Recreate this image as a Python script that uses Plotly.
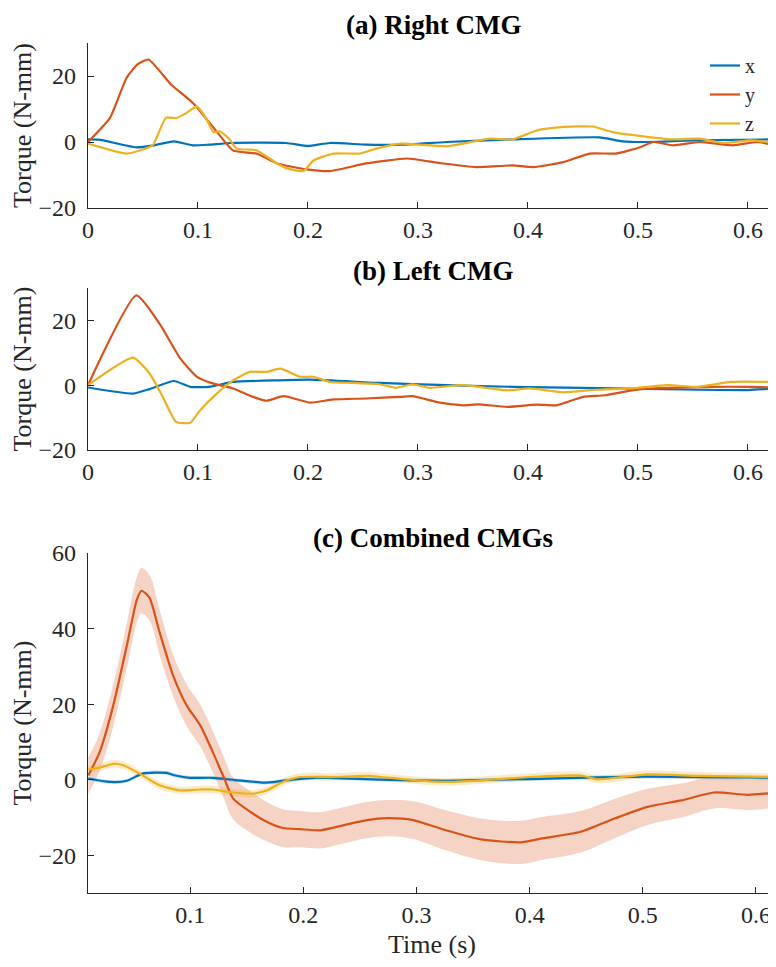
import plotly.graph_objects as go

# ---------------- data ----------------
# (a) Right CMG
ra_x_t = [0, 0.01, 0.044, 0.06, 0.078, 0.095, 0.11, 0.13, 0.18, 0.2, 0.22, 0.253, 0.284, 0.326, 0.386, 0.465, 0.486, 0.51, 0.55, 0.625]
ra_x_v = [0.8, 0.7, -1.6, -1.0, 0.2, -1.0, -0.8, -0.3, -0.3, -1.2, -0.3, -0.8, -0.8, 0, 0.8, 1.4, 0.2, 0, 0.5, 0.8]
ra_y_t = [0, 0.02, 0.035, 0.045, 0.055, 0.075, 0.096, 0.114, 0.132, 0.153, 0.172, 0.199, 0.22, 0.253, 0.29, 0.32, 0.353, 0.386, 0.405, 0.432, 0.456, 0.48, 0.502, 0.514, 0.532, 0.556, 0.586, 0.608, 0.625]
ra_y_v = [0, 7.3, 19.4, 23.5, 25, 17.6, 11.6, 4.4, -2.6, -3.5, -6.5, -8.3, -8.8, -6.5, -5.0, -6.4, -7.6, -7.1, -7.6, -6.1, -3.5, -3.5, -1.6, 0, -1.0, 0, -1.0, 0, -1.0]
ra_z_t = [0, 0.035, 0.053, 0.059, 0.071, 0.08, 0.088, 0.099, 0.107, 0.114, 0.12, 0.129, 0.135, 0.153, 0.172, 0.181, 0.196, 0.205, 0.223, 0.247, 0.262, 0.284, 0.326, 0.365, 0.386, 0.408, 0.43, 0.459, 0.477, 0.505, 0.53, 0.556, 0.578, 0.602, 0.625]
ra_z_v = [-0.5, -3.5, -1.9, -1.0, 7.4, 7.2, 8.5, 10.7, 7.4, 3.0, 3.2, 0.7, -2.0, -2.5, -6.5, -8.0, -8.8, -5.6, -3.5, -3.5, -2.0, -0.5, -1.3, 1.0, 0.8, 3.5, 4.5, 4.7, 3.0, 1.7, 0.8, 1.0, -0.3, 0.5, -0.3]

# (b) Left CMG
lb_x_t = [0, 0.041, 0.056, 0.078, 0.093, 0.11, 0.132, 0.172, 0.202, 0.265, 0.326, 0.386, 0.48, 0.6, 0.625]
lb_x_v = [-0.7, -2.6, -1.2, 1.3, -0.5, -0.5, 1.0, 1.5, 1.7, 0.7, 0, -0.5, -1.0, -1.5, -1.0]
lb_y_t = [0, 0.044, 0.065, 0.084, 0.099, 0.114, 0.132, 0.15, 0.162, 0.178, 0.202, 0.223, 0.253, 0.284, 0.295, 0.32, 0.341, 0.355, 0.381, 0.408, 0.426, 0.45, 0.47, 0.496, 0.514, 0.568, 0.6, 0.625]
lb_y_v = [0, 27.7, 19, 8.2, 2.6, 0.5, -1.0, -3.6, -4.8, -3.4, -5.4, -4.4, -4.1, -3.6, -3.4, -5.4, -6.2, -5.9, -6.7, -6.0, -6.2, -3.6, -3.1, -1.5, -1.0, -0.5, -0.5, -0.7]
lb_z_t = [0, 0.041, 0.056, 0.068, 0.08, 0.093, 0.102, 0.117, 0.132, 0.147, 0.162, 0.175, 0.193, 0.205, 0.22, 0.24, 0.265, 0.28, 0.295, 0.31, 0.341, 0.381, 0.402, 0.432, 0.462, 0.493, 0.527, 0.554, 0.584, 0.625]
lb_z_v = [0, 8.5, 3.6, -3.6, -11.3, -11.6, -7.7, -2.6, 1.5, 4.1, 4.1, 5.1, 2.6, 2.6, 1.0, 0.7, 0.3, -0.8, 0.3, -0.8, 0, -1.6, -1.0, -2.2, -1.4, -1.0, 0, -0.5, 1.0, 1.0]

# (c) Combined CMGs: mean and band half-width
cc_x_t = [0.01, 0.029, 0.044, 0.058, 0.079, 0.087, 0.1, 0.12, 0.14, 0.168, 0.19, 0.21, 0.268, 0.326, 0.415, 0.504, 0.618]
cc_x_v = [0.3, -0.6, -0.3, 1.6, 1.8, 1.1, 0.5, 0.5, -0.1, -0.8, 0, 0.5, 0, -0.3, 0.3, 0.8, 0.5]
cc_x_hw = [0.5] * 17
cc_y_t = [0.01, 0.02, 0.032, 0.044, 0.053, 0.057, 0.064, 0.073, 0.085, 0.097, 0.109, 0.12, 0.129, 0.138, 0.153, 0.168, 0.182, 0.197, 0.215, 0.235, 0.256, 0.275, 0.297, 0.326, 0.357, 0.392, 0.41, 0.445, 0.475, 0.504, 0.534, 0.563, 0.593, 0.618]
cc_y_v = [1.1, 7.3, 19.6, 35.5, 47.8, 50.0, 48.2, 39.0, 27.5, 19.6, 14.3, 7.3, 1.1, -5.0, -8.5, -11.2, -12.8, -13.1, -13.4, -12.1, -10.7, -10.2, -10.7, -13.4, -15.8, -16.6, -15.6, -13.8, -10.3, -7.2, -5.5, -3.4, -4.0, -3.4]
cc_y_hw = [4.8, 5, 5.5, 6, 6, 6, 6, 6, 5.5, 5.5, 5.5, 5.5, 5.5, 5.5, 5.5, 5.2, 5, 4.8, 4.8, 4.8, 4.8, 4.8, 5, 5.3, 5.5, 5.7, 5.7, 5.5, 5.2, 4.8, 4.5, 4.2, 4, 4]
cc_z_t = [0.01, 0.02, 0.032, 0.041, 0.058, 0.073, 0.09, 0.109, 0.12, 0.138, 0.156, 0.168, 0.182, 0.197, 0.226, 0.256, 0.268, 0.297, 0.326, 0.36, 0.4, 0.445, 0.46, 0.504, 0.55, 0.618]
cc_z_v = [2.7, 3.2, 4.2, 3.8, 1.1, -1.5, -2.8, -2.6, -2.6, -3.4, -3.7, -2.8, -0.6, 0.7, 0.7, 1.0, 0.7, -0.1, -0.6, -0.1, 0.7, 1.1, 0.1, 1.4, 1.0, 0.7]
cc_z_hw = [1.0] * 26

series_names = ["x", "y", "z"]
colors = {"x": "#0072BD", "y": "#D95319", "z": "#EDB120"}
bands = {"x": "rgba(0,114,189,0.2)", "y": "rgba(217,83,25,0.25)", "z": "rgba(237,177,32,0.25)"}

x_ticks_ab = [0, 0.1, 0.2, 0.3, 0.4, 0.5, 0.6]
x_ticks_c = [0.1, 0.2, 0.3, 0.4, 0.5, 0.6]
y_ticks_ab = [-20, 0, 20]
y_ticks_c = [-20, 0, 20, 40, 60]
titles = ["(a) Right CMG", "(b) Left CMG", "(c) Combined CMGs"]

# ---------------- figure ----------------
# The page body has an 8 px margin, so the figure is 8 px smaller and
# all pixel positions below are page positions minus 8.
W, H = 768, 951
fig = go.Figure()
FONT = "Liberation Serif"
INK = "#262626"
LW = 2.2

panel_a = {"x": (ra_x_t, ra_x_v), "y": (ra_y_t, ra_y_v), "z": (ra_z_t, ra_z_v)}
panel_b = {"x": (lb_x_t, lb_x_v), "y": (lb_y_t, lb_y_v), "z": (lb_z_t, lb_z_v)}
panel_c = {"x": (cc_x_t, cc_x_v, cc_x_hw), "y": (cc_y_t, cc_y_v, cc_y_hw), "z": (cc_z_t, cc_z_v, cc_z_hw)}

for name in series_names:
    t, v = panel_a[name]
    fig.add_trace(go.Scatter(x=t, y=v, mode="lines", name=name,
                             line=dict(color=colors[name], width=LW, shape="spline", smoothing=0.5),
                             xaxis="x", yaxis="y", showlegend=True, legendgroup=name))
for name in series_names:
    t, v = panel_b[name]
    fig.add_trace(go.Scatter(x=t, y=v, mode="lines", name=name,
                             line=dict(color=colors[name], width=LW, shape="spline", smoothing=0.5),
                             xaxis="x2", yaxis="y2", showlegend=False, legendgroup=name))
# bands for (c)
for name in ["y", "x", "z"]:
    t, v, hw = panel_c[name]
    lo = [a - b for a, b in zip(v, hw)]
    hi = [a + b for a, b in zip(v, hw)]
    fig.add_trace(go.Scatter(x=t, y=lo, mode="lines", line=dict(width=0, color=bands[name], shape="spline"),
                             xaxis="x3", yaxis="y3", showlegend=False, hoverinfo="skip"))
    fig.add_trace(go.Scatter(x=t, y=hi, mode="lines", line=dict(width=0, color=bands[name], shape="spline"),
                             fill="tonexty", fillcolor=bands[name],
                             xaxis="x3", yaxis="y3", showlegend=False, hoverinfo="skip"))
for name in series_names:
    t, v, hw = panel_c[name]
    fig.add_trace(go.Scatter(x=t, y=v, mode="lines", name=name,
                             line=dict(color=colors[name], width=LW, shape="spline", smoothing=0.6),
                             xaxis="x3", yaxis="y3", showlegend=False, legendgroup=name))

x0 = 80 / W
def ydom(top, bottom):
    return [1 - bottom / H, 1 - top / H]

axis_common = dict(showline=True, linecolor=INK, linewidth=1.2, ticks="inside", ticklen=6,
                   tickcolor=INK, tickwidth=1.2, showgrid=False, zeroline=False, automargin=False,
                   tickfont=dict(family=FONT, size=24, color=INK))
ylab_font = dict(family=FONT, size=26, color=INK)

fig.update_layout(
    width=W, height=H, margin=dict(l=0, r=0, t=0, b=0, autoexpand=False),
    paper_bgcolor="white", plot_bgcolor="white",
    font=dict(family=FONT, color=INK),
    xaxis=dict(domain=[x0, 1], range=[0, 0.6255], tickvals=x_ticks_ab, ticktext=["0", "0.1", "0.2", "0.3", "0.4", "0.5", "0.6"],
               anchor="y", **axis_common),
    yaxis=dict(domain=ydom(35, 200), range=[-20, 30], tickvals=y_ticks_ab, anchor="x",
               title=dict(text="Torque (N-mm)", font=ylab_font, standoff=10),
               ticklabelstandoff=6, **axis_common),
    xaxis2=dict(domain=[x0, 1], range=[0, 0.6255], tickvals=x_ticks_ab, ticktext=["0", "0.1", "0.2", "0.3", "0.4", "0.5", "0.6"],
                anchor="y2", **axis_common),
    yaxis2=dict(domain=ydom(280, 442), range=[-20, 30], tickvals=y_ticks_ab, anchor="x2",
                title=dict(text="Torque (N-mm)", font=ylab_font, standoff=10),
                ticklabelstandoff=6, **axis_common),
    xaxis3=dict(domain=[x0, 1], range=[0.0097, 0.6177], tickvals=x_ticks_c, ticktext=["0.1", "0.2", "0.3", "0.4", "0.5", "0.6"],
                anchor="y3",
                title=dict(text="Time (s)", font=ylab_font, standoff=15),
                **axis_common),
    yaxis3=dict(domain=ydom(545, 885), range=[-30, 60], tickvals=y_ticks_c, anchor="x3",
                title=dict(text="Torque (N-mm)", font=ylab_font, standoff=10),
                ticklabelstandoff=6, **axis_common),
    legend=dict(x=697 / W, y=1 - 38 / H, xanchor="left", yanchor="top", bgcolor="rgba(0,0,0,0)",
                font=dict(family=FONT, size=20, color=INK), tracegroupgap=0, itemwidth=30),
    showlegend=True,
)

title_y = [0, 246, 513]
for txt, yy in zip(titles, title_y):
    fig.add_annotation(text="<b>" + txt + "</b>", x=425 / W, y=1 - yy / H, xref="paper", yref="paper",
                       xanchor="center", yanchor="top", showarrow=False,
                       font=dict(family=FONT, size=27, color="#000000"))

fig.write_html("out.html")
